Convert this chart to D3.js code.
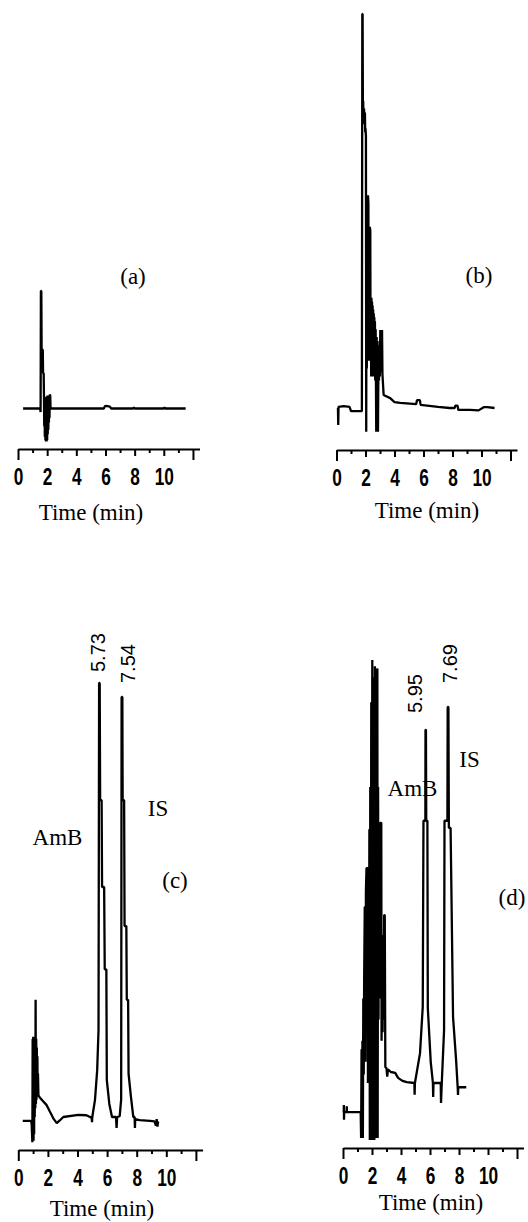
<!DOCTYPE html>
<html lang="en">
<head>
  <meta charset="UTF-8">
  <title>Chromatograms (a)-(d)</title>
  <style>
    body { margin: 0; background: #fff; }
    svg { display: block; }
    .trace { fill: none; stroke: #000; stroke-width: 2.3; stroke-linejoin: bevel; }
    .axis path, .axis line { stroke: #000; stroke-width: 2; }
    .axis text { font-family: "Liberation Sans", Arial, sans-serif; font-weight: bold; font-size: 24px; fill: #000; }
    .serif { font-family: "Liberation Serif", "Times New Roman", serif; font-size: 23px; fill: #000; }
    .rt { font-family: "Liberation Sans", Arial, sans-serif; font-size: 20px; fill: #000; }
  </style>
</head>
<body>

<div id="chart"></div>

<script src="https://d3js.org/d3.v7.min.js"></script>
<script>

const width = 528;
const height = 1222;

// time axis (min)
const tickValues = [0, 1, 2, 3, 4, 5, 6, 7, 8, 9, 10, 11, 12];
const tickLabels = ["0", "", "2", "", "4", "", "6", "", "8", "", "10", "", ""];

// traces: [time (min), relative signal]  0 = baseline, 100 = panel top
const traceA = [[0.35,0],[1.52,0],[1.55,-3],[1.57,100],[1.6,100],[1.62,50],[1.7,50],[1.72,30],[1.76,30],[1.78,12],
  [1.8,-15],[1.82,10],[1.84,-24],[1.86,9],[1.88,-27],[1.9,8],[1.92,-28],[1.94,10],[1.96,-28],[1.98,9],[2.0,-27],
  [2.02,11],[2.04,-22],[2.06,9],[2.08,-18],[2.1,8],[2.12,-12],[2.14,5],[2.16,-8],[2.18,12],[2.21,11],[2.23,2],
  [2.26,0],[5.9,0],[5.95,1.8],[6.05,2.2],[6.3,1.5],[6.4,0],[7.9,0],[7.95,1],[8.0,0],[10.0,0],[10.05,0.8],
  [10.1,0],[11.5,0]];

const traceB = [[0.1,0],[0.12,-4.3],[0.14,0.3],[0.5,0.5],[0.9,0.3],[1.0,-0.8],[1.75,-0.8],[1.78,100],[1.8,100],
  [1.82,76],[1.84,78],[1.86,74],[1.9,76],[1.93,72],[1.96,75],[1.98,70],[2.0,71],[2.03,69],[2.05,-6],[2.07,50],
  [2.09,10],[2.11,53],[2.14,52],[2.17,54],[2.2,52],[2.22,12],[2.24,46],[2.27,44],[2.3,46],[2.33,45],[2.35,12],
  [2.37,27],[2.39,8],[2.41,28],[2.43,9],[2.45,27],[2.47,8],[2.49,26],[2.51,10],[2.53,25],[2.55,8],[2.57,24],
  [2.59,9],[2.61,23],[2.63,8],[2.65,22],[2.67,7],[2.7,20],[2.74,-6],[2.77,18],[2.8,-6],[2.83,17],[2.86,-6],
  [2.9,16],[2.93,7],[2.96,16],[2.99,8],[3.02,19.8],[3.05,9],[3.08,19.8],[3.11,9],[3.14,19.8],[3.17,8.5],
  [3.25,3.3],[3.7,2.5],[4.0,1.5],[4.4,1.3],[5.5,1.0],[5.55,2.0],[5.75,2.0],[5.8,0.8],[7.0,0.3],[7.8,0],
  [8.15,0],[8.2,0.6],[8.35,0.6],[8.4,-0.5],[9.2,-0.5],[9.8,-0.6],[10.15,0.2],[10.4,0.2],[10.9,0]];

const traceC = [[0.3,-0.9],[0.85,-0.9],[0.9,-1.5],[0.95,-5.8],[0.97,18],[0.99,-5],[1.01,18.5],[1.03,-5.5],
  [1.05,18],[1.07,-4],[1.09,18],[1.11,0],[1.13,18],[1.15,2],[1.17,27],[1.19,3],[1.21,18],[1.23,4],[1.25,16],
  [1.27,5],[1.29,14],[1.31,5],[1.33,10],[1.36,5],[1.45,4.5],[1.6,3.9],[1.9,2.8],[2.14,1.2],[2.4,-0.5],
  [2.6,-1.4],[2.8,-0.8],[3.04,0],[4.05,0.5],[4.6,0.4],[4.85,0],[4.96,-0.2],[4.98,-1.2],[5.0,0],[5.18,3.9],
  [5.33,10.8],[5.42,20],[5.46,100],[5.5,100],[5.53,73],[5.63,73],[5.66,53],[5.8,53],[5.84,34],[5.95,34],
  [5.98,8.5],[6.15,3],[6.33,0],[6.6,0],[6.64,-2.5],[6.68,0],[6.85,0.2],[6.95,4],[6.98,96.8],[7.03,96.8],
  [7.05,73],[7.15,73],[7.18,44],[7.3,44],[7.33,27],[7.42,27],[7.45,10],[7.6,5],[7.77,0],[7.86,0],[7.88,-2.5],
  [7.9,-0.5],[8.2,-0.7],[8.9,-0.9],[9.2,-1],[9.3,-2],[9.35,-0.5],[9.4,-2.2],[9.45,-1]];

const traceD = [[0.05,-6.9],[0.06,-5.2],[0.07,-8.7],[0.08,-6.9],[0.25,-6.9],[0.26,-5.5],[0.27,-6.9],[1.22,-6.9],
  [1.25,-13],[1.28,8],[1.31,-13],[1.34,10],[1.37,-13],[1.4,20],[1.43,2],[1.46,25],[1.5,41.6],[1.53,41.6],
  [1.55,5],[1.58,45],[1.62,50.8],[1.7,50.8],[1.72,0],[1.75,40],[1.78,5],[1.82,60],[1.85,-13.5],[1.88,70],
  [1.91,-13.5],[1.95,90],[1.98,-13.5],[2.02,100],[2.04,-13.5],[2.07,96],[2.1,-13.5],[2.13,95],[2.16,-13.5],
  [2.2,98.5],[2.23,-13],[2.26,90],[2.29,-12],[2.33,97],[2.37,98],[2.39,-13],[2.42,70],[2.45,15],[2.48,55],
  [2.52,20],[2.56,61.5],[2.64,61.5],[2.66,10],[2.7,35],[2.73,12],[2.77,30],[2.8,15],[2.84,39.7],[2.88,39.7],
  [2.92,3.8],[3.0,3.5],[3.05,1.5],[3.1,3.2],[3.3,2.6],[3.6,2.4],[3.8,1.2],[4.1,0.5],[4.4,0.2],[4.92,0],
  [4.94,-2.8],[4.96,0],[5.31,7],[5.5,18],[5.55,62],[5.68,62],[5.69,83.5],[5.72,83.5],[5.74,62],[5.82,62],
  [5.85,17.7],[6.05,5],[6.2,0],[6.22,-3.3],[6.24,0],[6.74,0],[6.76,-4.7],[6.8,-1],[6.97,12.5],[7.0,62],
  [7.2,62],[7.22,88.9],[7.27,88.9],[7.3,60.3],[7.42,60.3],[7.59,15.6],[7.8,5.4],[7.92,-1.7],[7.93,-2.8],
  [7.95,-1],[8.5,-1]];

// retention time labels and peak names
const rtLabelsC = ["5.73", "7.54"];
const rtLabelsD = ["5.95", "7.69"];
const peakNames = ["AmB", "IS"];

const svg = d3.select("#chart").append("svg")
  .attr("width", width)
  .attr("height", height);

const panels = [
  { name: "(a)", trace: traceA, x0: 18, ppm: 14.58, axisY: 449, yBase: 408.5, yTop: 291,
    tag: [133, 284], time: [91, 520] },
  { name: "(b)", trace: traceB, x0: 336.5, ppm: 14.5, axisY: 450, yBase: 408, yTop: 14,
    tag: [479, 283], time: [427, 518] },
  { name: "(c)", trace: traceC, x0: 18.3, ppm: 14.8, axisY: 1150, yBase: 1117, yTop: 683,
    tag: [175, 888], time: [102, 1216],
    names: [[57.5, 845], [158, 816]], rt: rtLabelsC, rtPos: [[105, 672], [135, 683]] },
  { name: "(d)", trace: traceD, x0: 343, ppm: 14.5, axisY: 1148, yBase: 1083, yTop: 660,
    tag: [512, 905], time: [431, 1210],
    names: [[412.5, 796], [469.5, 767]], rt: rtLabelsD, rtPos: [[422, 713], [457, 683]] }
];

panels.forEach(p => {
  const x = d3.scaleLinear().domain([0, 12.45]).range([p.x0, p.x0 + 12.45 * p.ppm]);
  const y = d3.scaleLinear().domain([0, 100]).range([p.yBase, p.yTop]);

  const line = d3.line().x(d => x(d[0])).y(d => y(d[1]));

  svg.append("path")
    .datum(p.trace)
    .attr("class", "trace")
    .attr("d", line);

  // time axis
  const axis = d3.axisBottom(x)
    .tickValues(tickValues)
    .tickSizeOuter(0)
    .tickFormat((d, i) => tickLabels[i]);

  const g = svg.append("g")
    .attr("class", "axis")
    .attr("transform", `translate(0,${p.axisY})`)
    .call(axis);

  g.selectAll(".tick line")
    .attr("y2", d => (d === 0 || d === 12) ? 11 : (d % 2 === 0 ? 7 : 4));
  // tall narrow digits like the original print
  g.selectAll(".tick text")
    .attr("y", 36)
    .attr("dy", 0)
    .attr("transform", "scale(0.72,1)");

  svg.append("text")
    .attr("class", "serif")
    .attr("x", p.time[0]).attr("y", p.time[1])
    .attr("text-anchor", "middle")
    .text("Time (min)");

  svg.append("text")
    .attr("class", "serif")
    .attr("x", p.tag[0]).attr("y", p.tag[1])
    .attr("text-anchor", "middle")
    .text(p.name);

  if (p.names) {
    p.names.forEach((pos, i) => {
      svg.append("text")
        .attr("class", "serif")
        .attr("x", pos[0]).attr("y", pos[1])
        .attr("text-anchor", "middle")
        .text(peakNames[i]);
    });
    p.rt.forEach((label, i) => {
      svg.append("text")
        .attr("class", "rt")
        .attr("transform", `translate(${p.rtPos[i][0]},${p.rtPos[i][1]}) rotate(-90)`)
        .text(label);
    });
  }
});

</script>

</body>
</html>
